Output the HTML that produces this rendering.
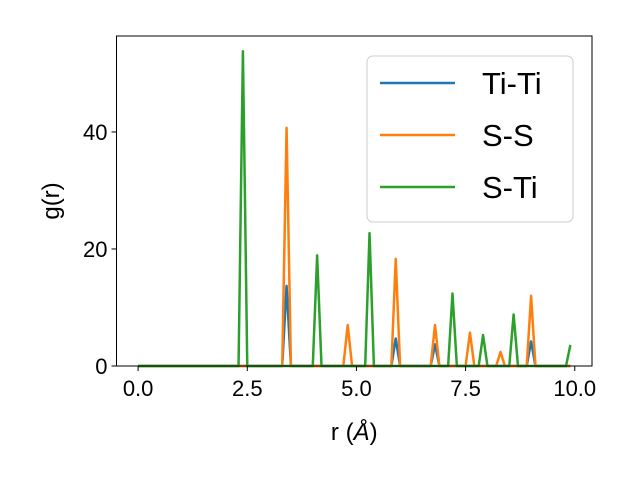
<!DOCTYPE html>
<html><head><meta charset="utf-8"><style>body{margin:0;background:#fff}svg{display:block;font-family:"Liberation Sans","DejaVu Sans",sans-serif}</style></head>
<body>
<svg id="chart" width="640" height="480" xmlns="http://www.w3.org/2000/svg"></svg>
<script>
const rValues = Array.from({length:100},(_,i)=>+(i*0.1).toFixed(1));
const peaksTiTi = [[3.4,13.7],[5.9,4.7],[6.8,3.7],[9.0,4.2]];
const peaksSS = [[3.4,40.7],[4.8,7.0],[5.9,18.3],[6.8,7.0],[7.6,5.7],[8.3,2.4],[9.0,12.0]];
const peaksSTi = [[2.4,53.8],[4.1,18.9],[5.3,22.7],[7.2,12.4],[7.9,5.3],[8.6,8.8],[9.9,3.6]];
const seriesNames = ["Ti-Ti","S-S","S-Ti"];
const seriesColors = ["#1f77b4","#ff7f0e","#2ca02c"];
const xTicks = [0,2.5,5,7.5,10];
const xTickLabels = ["0.0","2.5","5.0","7.5","10.0"];
const yTicks = [0,20,40];

const L=116.5,R=592,T=36,B=366,xMin=-0.495,xMax=10.395,yMin=0,yMax=56.4;
const X=v=>L+(v-xMin)/(xMax-xMin)*(R-L);
const Y=v=>B-(v-yMin)/(yMax-yMin)*(B-T);
const svg=document.getElementById('chart');
const NS="http://www.w3.org/2000/svg";
function mk(t,a,p){const e=document.createElementNS(NS,t);for(const k in a)e.setAttribute(k,a[k]);(p||svg).appendChild(e);return e;}
function series(peaks){return rValues.map(r=>{const p=peaks.find(q=>Math.abs(q[0]-r)<1e-6);return p?p[1]:0;});}
const allSeries=[series(peaksTiTi),series(peaksSS),series(peaksSTi)];
allSeries.forEach((vals,si)=>{
  const d=vals.map((v,i)=>(i?'L':'M')+X(rValues[i]).toFixed(2)+' '+Y(v).toFixed(2)).join(' ');
  const p=mk('path',{d:d,fill:'none',stroke:seriesColors[si],'stroke-width':2.5,'stroke-linejoin':'round'});
  
  
});
const frame=mk('rect',{x:L,y:T,width:R-L,height:B-T,fill:'none',stroke:'#000','stroke-width':1});


xTicks.forEach((v,i)=>{
  const x=X(v);
  const tk=mk('line',{x1:x,x2:x,y1:B,y2:B+5,stroke:'#000'});
  
  
  const t=mk('text',{x:x,y:B+30,'text-anchor':'middle','font-size':22});
  t.textContent=xTickLabels[i];
  
  
});
yTicks.forEach(v=>{
  const y=Y(v);
  const tk=mk('line',{x1:L-5,x2:L,y1:y,y2:y,stroke:'#000'});
  
  
  const t=mk('text',{x:L-9,y:y+8,'text-anchor':'end','font-size':22});
  t.textContent=String(v);
  
  
});
const xt=mk('text',{x:(L+R)/2,y:440,'text-anchor':'middle','font-size':24});
xt.innerHTML='r (<tspan font-style="italic">Å</tspan>)';


const yt=mk('text',{x:0,y:0,'text-anchor':'middle','font-size':24,transform:'translate(59,201) rotate(-90)'});
yt.textContent='g(r)';


const lg=mk('g',{});


mk('rect',{x:367,y:56,width:206,height:166,rx:6,fill:'#fff','fill-opacity':0.8,stroke:'#ccc'},lg);
seriesNames.forEach((n,i)=>{
  const y=83+i*52;
  const ln=mk('line',{x1:380,x2:455,y1:y,y2:y,stroke:seriesColors[i],'stroke-width':2.5},lg);
  
  
  const t=mk('text',{x:482,y:y+11,'font-size':31},lg);
  t.textContent=n;
  
  
});
</script>
</body></html>
